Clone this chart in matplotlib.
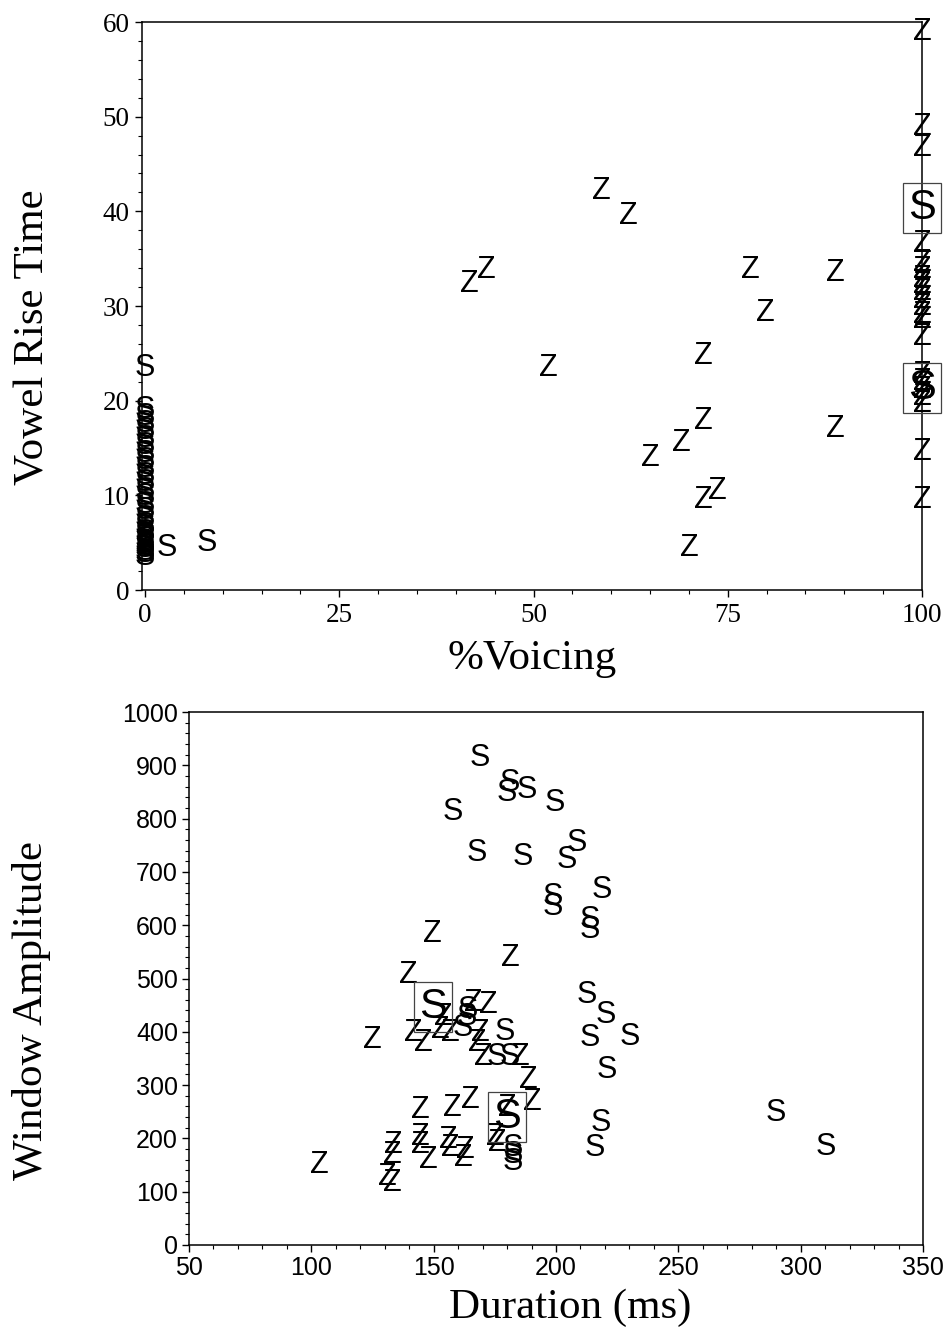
import matplotlib
matplotlib.use('Agg')
import matplotlib.pyplot as plt
from matplotlib.ticker import MultipleLocator

# ---------------- Top panel: %Voicing vs Vowel Rise Time ----------------
top_s_x = [0]*29 + [2.8, 8.0]
top_s_y = [23.4, 19.0, 18.3, 17.5, 16.8, 16.0, 15.2, 14.4, 13.6, 12.8, 12.0,
           11.3, 10.5, 9.8, 9.0, 8.3, 7.5, 6.8, 6.5, 6.0, 5.8, 5.3, 5.0, 4.8,
           4.5, 4.3, 4.0, 3.8, 3.5, 4.4, 5.0]

top_z_x = [58.7, 62.2, 41.8, 43.9, 51.9, 77.9, 88.9, 79.9, 71.9, 71.9, 69.0,
           65.0, 88.9, 71.9, 73.7, 70.0,
           100, 100, 100, 100, 100, 100, 100, 100, 100, 100, 100, 100, 100,
           100, 100, 100, 100, 100, 100, 100, 100]
top_z_y = [42.2, 39.5, 32.3, 33.8, 23.4, 33.8, 33.5, 29.3, 24.7, 17.8, 15.5,
           13.9, 17.0, 9.5, 10.5, 4.4,
           58.9, 48.9, 46.7, 36.6, 34.5, 33.8, 32.9, 32.2, 31.5, 30.6, 29.9,
           29.1, 28.5, 26.7, 22.7, 22.0, 21.1, 20.4, 19.6, 14.6, 9.5]

top_box_x = [100, 100]
top_box_y = [40.4, 21.3]

# ---------------- Bottom panel: Duration vs Window Amplitude ----------------
bot_s_x = [169.0, 181.2, 180.0, 188.2, 199.6, 157.9, 167.7, 186.5, 204.5,
           208.6, 218.8, 198.8, 198.8, 213.9, 213.9, 212.7, 220.5, 213.9,
           230.3, 220.9, 218.4, 216.0, 290.0, 310.4, 164.1, 163.7, 162.0,
           179.2, 175.9, 181.2, 182.5, 182.5, 182.5]
bot_s_y = [914, 867, 848, 854, 829, 812, 735, 728, 722, 754, 666, 653, 634,
           610, 591, 469, 432, 388, 390, 328, 229, 182, 248, 184, 441, 428,
           407, 400, 353, 353, 182, 169, 156]

bot_z_x = [149.3, 139.5, 181.2, 124.8, 103.1, 166.1, 172.2, 153.8, 152.6,
           141.6, 145.7, 156.7, 169.0, 167.7, 170.2, 185.3, 188.6, 190.2,
           164.9, 157.5, 144.4, 180.0, 175.1, 175.9, 144.4, 144.4, 155.9,
           156.7, 162.8, 162.0, 147.7, 133.4, 133.0, 130.9, 133.0]
bot_z_y = [583, 507, 538, 385, 150, 454, 450, 428, 403, 398, 379, 398, 398,
           379, 353, 353, 310, 268, 272, 257, 253, 257, 203, 191, 203, 188,
           197, 182, 178, 163, 159, 188, 169, 128, 116]

bot_box_x = [149.8, 180.0]
bot_box_y = [447, 240]

SERIF = 'Liberation Serif'
SANS = 'Liberation Sans'
LET = 22
BIG = 30

fig = plt.figure(figsize=(9.53, 13.33), dpi=100)

# ---- top axes ----
ax1 = fig.add_axes([142/953, 1-590/1333, 780/953, 568/1333])
ax1.set_xlim(-0.4, 100)
ax1.set_ylim(0, 60)
for xv, yv in zip(top_s_x, top_s_y):
    ax1.text(xv, yv, 'S', family=SANS, fontsize=LET, ha='center', va='center', clip_on=False)
for xv, yv in zip(top_z_x, top_z_y):
    ax1.text(xv, yv, 'Z', family=SANS, fontsize=LET, ha='center', va='center', clip_on=False)
for xv, yv in zip(top_box_x, top_box_y):
    ax1.text(xv, yv, 'S', family=SANS, fontsize=BIG, ha='center', va='center', clip_on=False,
             bbox=dict(boxstyle='square,pad=0.12', fc='none', ec='#444444', lw=0.9))
ax1.xaxis.set_major_locator(MultipleLocator(25))
ax1.xaxis.set_minor_locator(MultipleLocator(5))
ax1.yaxis.set_major_locator(MultipleLocator(10))
ax1.yaxis.set_minor_locator(MultipleLocator(2))
ax1.tick_params(axis='both', which='major', direction='out', length=5, width=1, pad=4)
ax1.tick_params(axis='both', which='minor', direction='out', length=3, width=0.8)
for lab in ax1.get_xticklabels() + ax1.get_yticklabels():
    lab.set_family(SERIF)
    lab.set_fontsize(19.5)
ax1.set_xlabel('%Voicing', family=SERIF, fontsize=31, va='top')
ax1.xaxis.set_label_coords(0.5, -0.087)
ax1.set_ylabel('Vowel Rise Time', family=SERIF, fontsize=31)
ax1.yaxis.set_label_coords(-0.115, 0.445)
for sp in ax1.spines.values():
    sp.set_linewidth(1.1)

# ---- bottom axes ----
ax2 = fig.add_axes([189/953, 1-1245/1333, 734/953, 533/1333])
ax2.set_xlim(50, 350)
ax2.set_ylim(0, 1000)
for xv, yv in zip(bot_s_x, bot_s_y):
    ax2.text(xv, yv, 'S', family=SANS, fontsize=LET, ha='center', va='center')
for xv, yv in zip(bot_z_x, bot_z_y):
    ax2.text(xv, yv, 'Z', family=SANS, fontsize=LET, ha='center', va='center')
for xv, yv in zip(bot_box_x, bot_box_y):
    ax2.text(xv, yv, 'S', family=SANS, fontsize=BIG, ha='center', va='center',
             bbox=dict(boxstyle='square,pad=0.12', fc='none', ec='#444444', lw=0.9))
ax2.xaxis.set_major_locator(MultipleLocator(50))
ax2.xaxis.set_minor_locator(MultipleLocator(10))
ax2.yaxis.set_major_locator(MultipleLocator(100))
ax2.yaxis.set_minor_locator(MultipleLocator(20))
ax2.tick_params(axis='both', which='major', direction='out', length=5, width=1, pad=3)
ax2.tick_params(axis='both', which='minor', direction='out', length=3, width=0.8)
for lab in ax2.get_xticklabels() + ax2.get_yticklabels():
    lab.set_family(SANS)
    lab.set_fontsize(18)
ax2.set_xlabel('Duration (ms)', family=SERIF, fontsize=31, va='top')
ax2.xaxis.set_label_coords(0.519, -0.082)
ax2.set_ylabel('Window Amplitude', family=SERIF, fontsize=31)
ax2.yaxis.set_label_coords(-0.188, 0.44)
for sp in ax2.spines.values():
    sp.set_linewidth(1.1)

fig.savefig('out.png', dpi=100)
